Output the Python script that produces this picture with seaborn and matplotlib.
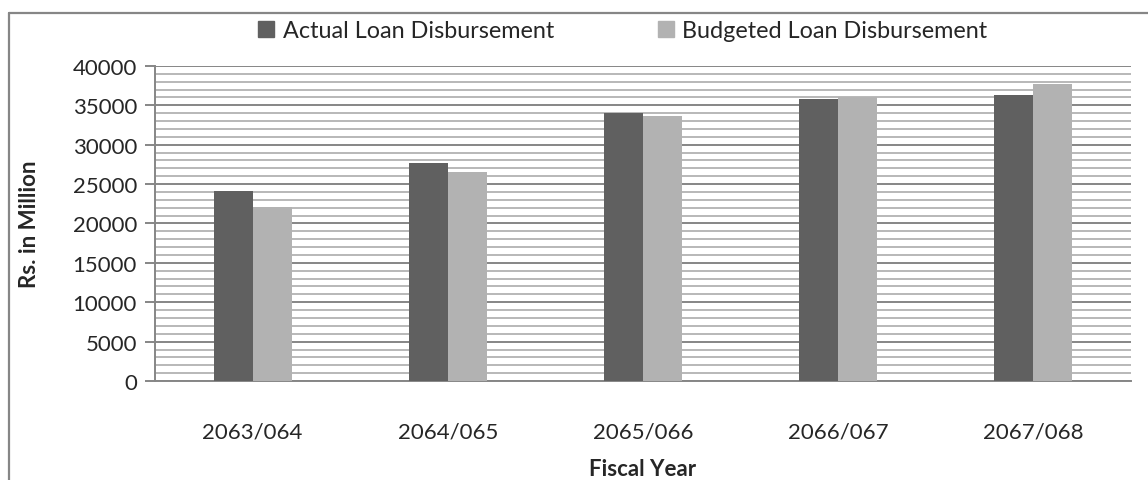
import matplotlib
matplotlib.use("Agg")
import matplotlib.pyplot as plt
import seaborn as sns
import pandas as pd
from matplotlib.ticker import MultipleLocator
from matplotlib.lines import Line2D

years = ["2063/064", "2064/065", "2065/066", "2066/067", "2067/068"]
actual = [24100, 27650, 34000, 35850, 36350]
budgeted = [22050, 26500, 33650, 36100, 37700]
series_names = ["Actual Loan Disbursement", "Budgeted Loan Disbursement"]
yticks = [0, 5000, 10000, 15000, 20000, 25000, 30000, 35000, 40000]

df = pd.DataFrame({
    "Fiscal Year": years * 2,
    "Value": actual + budgeted,
    "Series": [series_names[0]] * len(years) + [series_names[1]] * len(years),
})

sns.set_theme(style="white")
plt.rcParams["font.family"] = ["Lato", "DejaVu Sans"]

FS = 16
fig = plt.figure(figsize=(11.48, 4.81), dpi=100)
ax = fig.add_axes([0.135, 0.2058, 0.85, 0.655])

palette = {series_names[0]: "#606060", series_names[1]: "#b2b2b2"}
sns.barplot(data=df, x="Fiscal Year", y="Value", hue="Series", palette=palette,
            width=0.4, gap=0, saturation=1, ax=ax, legend=False, zorder=3,
            linewidth=0, edgecolor="none")

ax.set_ylim(0, 40000)
ax.set_xlim(-0.5, len(years) - 0.5)
ax.set_yticks(yticks)
ax.set_yticklabels([str(v) for v in yticks])
ax.yaxis.set_minor_locator(MultipleLocator(1000))
ax.grid(True, which="major", axis="y", color="#868686", linewidth=1.4, zorder=0)
ax.grid(True, which="minor", axis="y", color="#b8b8b8", linewidth=1.4, zorder=0)
ax.set_axisbelow(True)

for s in ["top", "right"]:
    ax.spines[s].set_visible(False)
for s in ["left", "bottom"]:
    ax.spines[s].set_color("#868686")
    ax.spines[s].set_linewidth(1.4)

ax.tick_params(axis="y", which="major", length=7, width=1.4, color="#868686",
               labelsize=FS, pad=6, left=True)
ax.tick_params(axis="y", which="minor", length=0)
ax.tick_params(axis="x", length=0, labelsize=FS, pad=29)

ax.set_ylabel("Rs. in Million", fontsize=FS, fontweight="bold")
ax.set_xlabel("Fiscal Year", fontsize=FS, fontweight="bold", labelpad=12)
ax.yaxis.set_label_coords(-0.118, 0.5)

handles = [Line2D([0], [0], marker="s", linestyle="", markersize=12,
                  markerfacecolor=palette[n], markeredgecolor=palette[n]) for n in series_names]
fig.legend(handles, series_names, loc="center", bbox_to_anchor=(0.541, 0.935), ncol=2,
           frameon=False, fontsize=16.8, handletextpad=0.2, columnspacing=4.3,
           handlelength=1.0)

# chart frame (left and top edges)
fig.add_artist(Line2D([9 / 1148, 9 / 1148], [0, 1 - 13.5 / 481], transform=fig.transFigure,
                      color="#868686", linewidth=1.6))
fig.add_artist(Line2D([9 / 1148, 1], [1 - 13.5 / 481, 1 - 13.5 / 481], transform=fig.transFigure,
                      color="#868686", linewidth=1.6))

fig.savefig("out.png", dpi=100, facecolor="white")
